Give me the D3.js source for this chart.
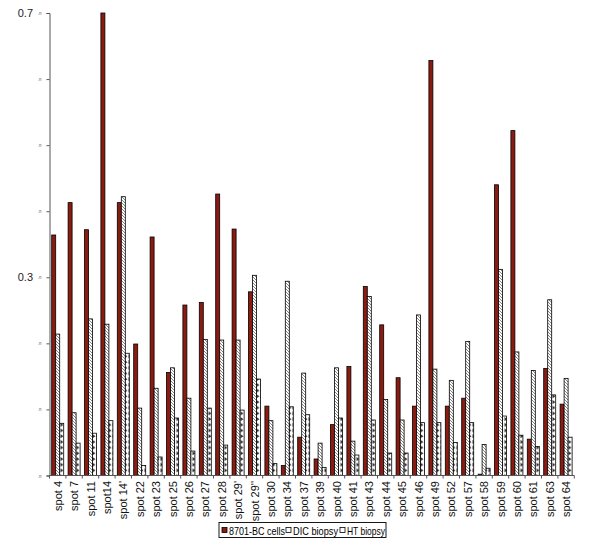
<!DOCTYPE html>
<html><head><meta charset="utf-8">
<script src="https://cdn.jsdelivr.net/npm/d3@7"></script>
<style>body{margin:0;background:#fff}svg{display:block}</style>
</head><body>
<svg id="c" width="600" height="549"></svg>
<script>
const categories = ["spot 4","spot 7","spot 11","spot14","spot 14'","spot 22","spot 23","spot 25","spot 26","spot 27","spot 28","spot 29'","spot 29''","spot 30","spot 34","spot 37","spot 39","spot 40","spot 41","spot 43","spot 44","spot 45","spot 46","spot 49","spot 52","spot 57","spot 58","spot 59","spot 60","spot 61","spot 63","spot 64"];
const seriesNames = ["8701-BC cells","DIC biopsy","HT biopsy"];
const bcCells = [0.364,0.413,0.372,0.700,0.413,0.199,0.361,0.156,0.258,0.262,0.426,0.373,0.278,0.105,0.015,0.058,0.025,0.077,0.165,0.286,0.228,0.148,0.105,0.628,0.105,0.117,0.002,0.440,0.522,0.055,0.162,0.108];
const dicBiopsy = [0.214,0.095,0.237,0.229,0.422,0.102,0.132,0.163,0.117,0.206,0.205,0.205,0.303,0.083,0.294,0.155,0.049,0.163,0.052,0.271,0.115,0.084,0.243,0.161,0.144,0.203,0.047,0.312,0.187,0.159,0.266,0.147];
const htBiopsy = [0.079,0.049,0.064,0.083,0.185,0.015,0.028,0.087,0.037,0.102,0.046,0.099,0.146,0.018,0.104,0.092,0.012,0.087,0.031,0.084,0.034,0.034,0.080,0.080,0.050,0.080,0.011,0.090,0.061,0.044,0.122,0.058];
const yTicks = [0,0.1,0.2,0.3,0.4,0.5,0.6,0.7];
const yTickLabels = {"0.3":"0.3","0.7":"0.7"};

const seriesData = [bcCells, dicBiopsy, htBiopsy];
const svg = d3.select("#c");
const defs = svg.append("defs");
const ph = defs.append("pattern").attr("id","hatch").attr("patternUnits","userSpaceOnUse").attr("width",3).attr("height",3);
ph.append("rect").attr("width",3).attr("height",3).attr("fill","#fff");
ph.append("path").attr("d","M-1,-1 L4,4 M-1,2 L1,4 M2,-1 L4,1").attr("stroke","#777").attr("stroke-width",0.9);
const pt = defs.append("pattern").attr("id","tri").attr("patternUnits","userSpaceOnUse").attr("width",4).attr("height",5.7);
pt.append("rect").attr("width",4).attr("height",5.7).attr("fill","#fff");
pt.append("path").attr("d","M0.5,1 L3.5,3 L0.5,5 Z").attr("fill","#333");

const fills = ["#8b1a10","url(#hatch)","url(#tri)"];

const x0 = d3.scaleBand().domain(categories).range([49.5, 49.5 + 32*16.4]).paddingInner(0.268).paddingOuter(0.134);
const x1 = d3.scaleBand().domain(d3.range(3)).range([0, x0.bandwidth()]);
const y = d3.scaleLinear().domain([0,0.7]).range([475.5, 13]);

const g = svg.append("g");
categories.forEach((c,i)=>{
  seriesData.forEach((s,k)=>{
    const v = s[i];
    g.append("rect")
      .attr("x", x0(c) + x1(k))
      .attr("y", y(v))
      .attr("width", x1.bandwidth())
      .attr("height", Math.max(0, y(0) - y(v)))
      .attr("fill", fills[k])
      .attr("stroke", "#000").attr("stroke-width", 0.8);
  });
});

const yAxis = d3.axisLeft(y).tickValues(yTicks).tickSize(3).tickFormat(()=>"");
const ya = svg.append("g").attr("transform","translate(49.5,0)").call(yAxis);
ya.select(".domain").attr("stroke","#555");
ya.selectAll(".tick line").attr("stroke","#555");
yTicks.forEach(t=>{
  svg.append("text").attr("x",40).attr("y",y(t)+2).attr("text-anchor","middle")
    .attr("font-family","Liberation Sans, Arial").attr("font-size",5).attr("fill","#666").text("л");
  const lab = yTickLabels[t.toFixed(1)];
  if(lab) svg.append("text").attr("x",33).attr("y",y(t)+4).attr("text-anchor","end")
    .attr("font-family","Liberation Sans, Arial").attr("font-size",11).attr("fill","#222").text(lab);
});

const step = x0.step();
const xa = svg.append("g").attr("transform","translate(0,475.5)");
xa.append("line").attr("x1",49.5).attr("x2",49.5+32*step).attr("stroke","#555");
for(let i=0;i<=categories.length;i++){
  const bx = 49.5 + i*step;
  xa.append("line").attr("x1",bx).attr("x2",bx).attr("y1",0).attr("y2",3).attr("stroke","#555");
}
categories.forEach(c=>{
  const cx = x0(c) + x0.bandwidth()/2;
  svg.append("text").attr("transform",`translate(${cx+4},481) rotate(-90)`)
    .attr("text-anchor","end").attr("font-family","Liberation Sans, Arial").attr("font-size",11).attr("fill","#111").text(c);
});

const lg = svg.append("g");
lg.append("rect").attr("x",219).attr("y",522.5).attr("width",167).attr("height",15).attr("fill","#fff").attr("stroke","#000").attr("stroke-width",0.9);
const lx = [222, 286, 340];
const lw = [56, 45, 38];
seriesNames.forEach((n,k)=>{
  lg.append("rect").attr("x",lx[k]).attr("y",527.5).attr("width",5).attr("height",5).attr("fill",k===0?fills[0]:"#fff").attr("stroke","#000").attr("stroke-width",0.8);
  lg.append("text").attr("x",lx[k]+7).attr("y",534.5).attr("font-family","Liberation Sans, Arial").attr("font-size",10.5)
    .attr("textLength",lw[k]).attr("lengthAdjust","spacingAndGlyphs").attr("fill","#000").text(n);
});
</script>
</body></html>
